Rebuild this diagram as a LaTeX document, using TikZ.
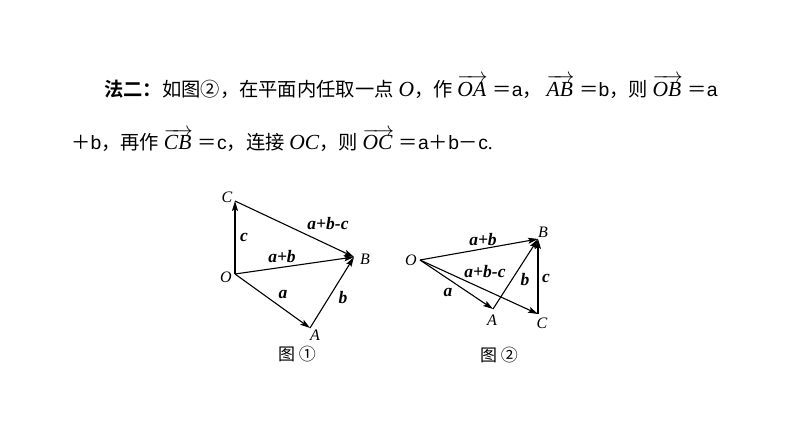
\documentclass[tikz,border=0pt]{standalone}
\usepackage{fontspec}
\setmainfont{Liberation Serif}
\newfontfamily\cjk{Noto Sans CJK SC}
\newfontfamily\cjkb{Noto Sans CJK SC Bold}
\newfontfamily\lsans{Liberation Sans}
\usetikzlibrary{arrows.meta}
\newcommand{\itl}[1]{{\fontsize{21.5}{19}\selectfont\itshape #1}}
\newcommand{\ovec}[1]{$\overrightarrow{\mbox{\itl{#1}\kern1.5pt}}$}
\begin{document}
\begin{tikzpicture}[x=1pt,y=-1pt,
  vec/.style={line width=1.1pt,-{Stealth[length=10pt,width=6pt,inset=2pt]}},
  pt/.style={font=\fontsize{16}{16}\selectfont\itshape,inner sep=0pt},
  lab/.style={font=\fontsize{17.5}{17.5}\selectfont\bfseries\itshape,inner sep=0pt},
  captext/.style={font=\fontsize{17}{17}\selectfont\cjk,inner sep=0pt},
  txt/.style={font=\fontsize{19.3}{19.3}\selectfont,inner sep=0pt,anchor=base west}]
\useasboundingbox[fill=white] (0,0) rectangle (794,447);
% text
\node[txt] (l1) at (104,96) {{\cjkb 法二：}{\cjk 如图②，在平面内任取一点} \itl{O}{\cjk ，作} \ovec{OA} {\cjk ＝}{\lsans a}{\cjk ，} \ovec{AB} {\cjk ＝}{\lsans b}{\cjk ，则} \ovec{OB} {\cjk ＝}{\lsans a}};
\node[txt] (l2) at (71,149.5) {{\cjk ＋}{\lsans b}{\cjk ，再作} \ovec{CB} {\cjk ＝}{\lsans c}{\cjk ，连接} \itl{OC}{\cjk ，则} \ovec{OC} {\cjk ＝}{\lsans a}{\cjk ＋}{\lsans b}{\cjk －}{\lsans c}.};
% figure 1
\coordinate (O1) at (235,274);
\coordinate (A1) at (310,328);
\coordinate (B1) at (354,257);
\coordinate (C1) at (235,201);
\draw[vec] (O1) -- (A1);
\draw[vec] (A1) -- (B1);
\draw[vec] (O1) -- (B1);
\draw[vec] (O1) -- (C1);
\draw[vec] (C1) -- (B1);
\node[pt] (tO1) at (226,277) {O};
\node[pt] (tA1) at (315,335) {A};
\node[pt] (tB1) at (365,259) {B};
\node[pt] (tC1) at (227,197) {C};
\node[lab] (la1) at (283,294) {a};
\node[lab] (lb1) at (343,298) {b};
\node[lab] (lc1) at (244,237) {c};
\node[lab] (lab1) at (282,257) {a+b};
\node[lab] (labc1) at (328,224) {a+b-c};
\node[captext] (cap1) at (297,354) {图 ①};
% figure 2
\coordinate (O2) at (420,260);
\coordinate (A2) at (493,309);
\coordinate (B2) at (538,239);
\coordinate (C2) at (538,314);
\draw[vec] (O2) -- (A2);
\draw[vec] (A2) -- (B2);
\draw[vec] (O2) -- (B2);
\draw[vec] (O2) -- (C2);
\draw[vec] (C2) -- (B2);
\node[pt] (tO2) at (411,260) {O};
\node[pt] (tA2) at (492,320) {A};
\node[pt] (tB2) at (543,232) {B};
\node[pt] (tC2) at (542,323) {C};
\node[lab] (la2) at (448,292) {a};
\node[lab] (lb2) at (525,280) {b};
\node[lab] (lc2) at (546,278) {c};
\node[lab] (lab2) at (483,240) {a+b};
\node[lab] (labc2) at (485,272) {a+b-c};
\node[captext] (cap2) at (499,355) {图 ②};
\end{tikzpicture}
\end{document}
